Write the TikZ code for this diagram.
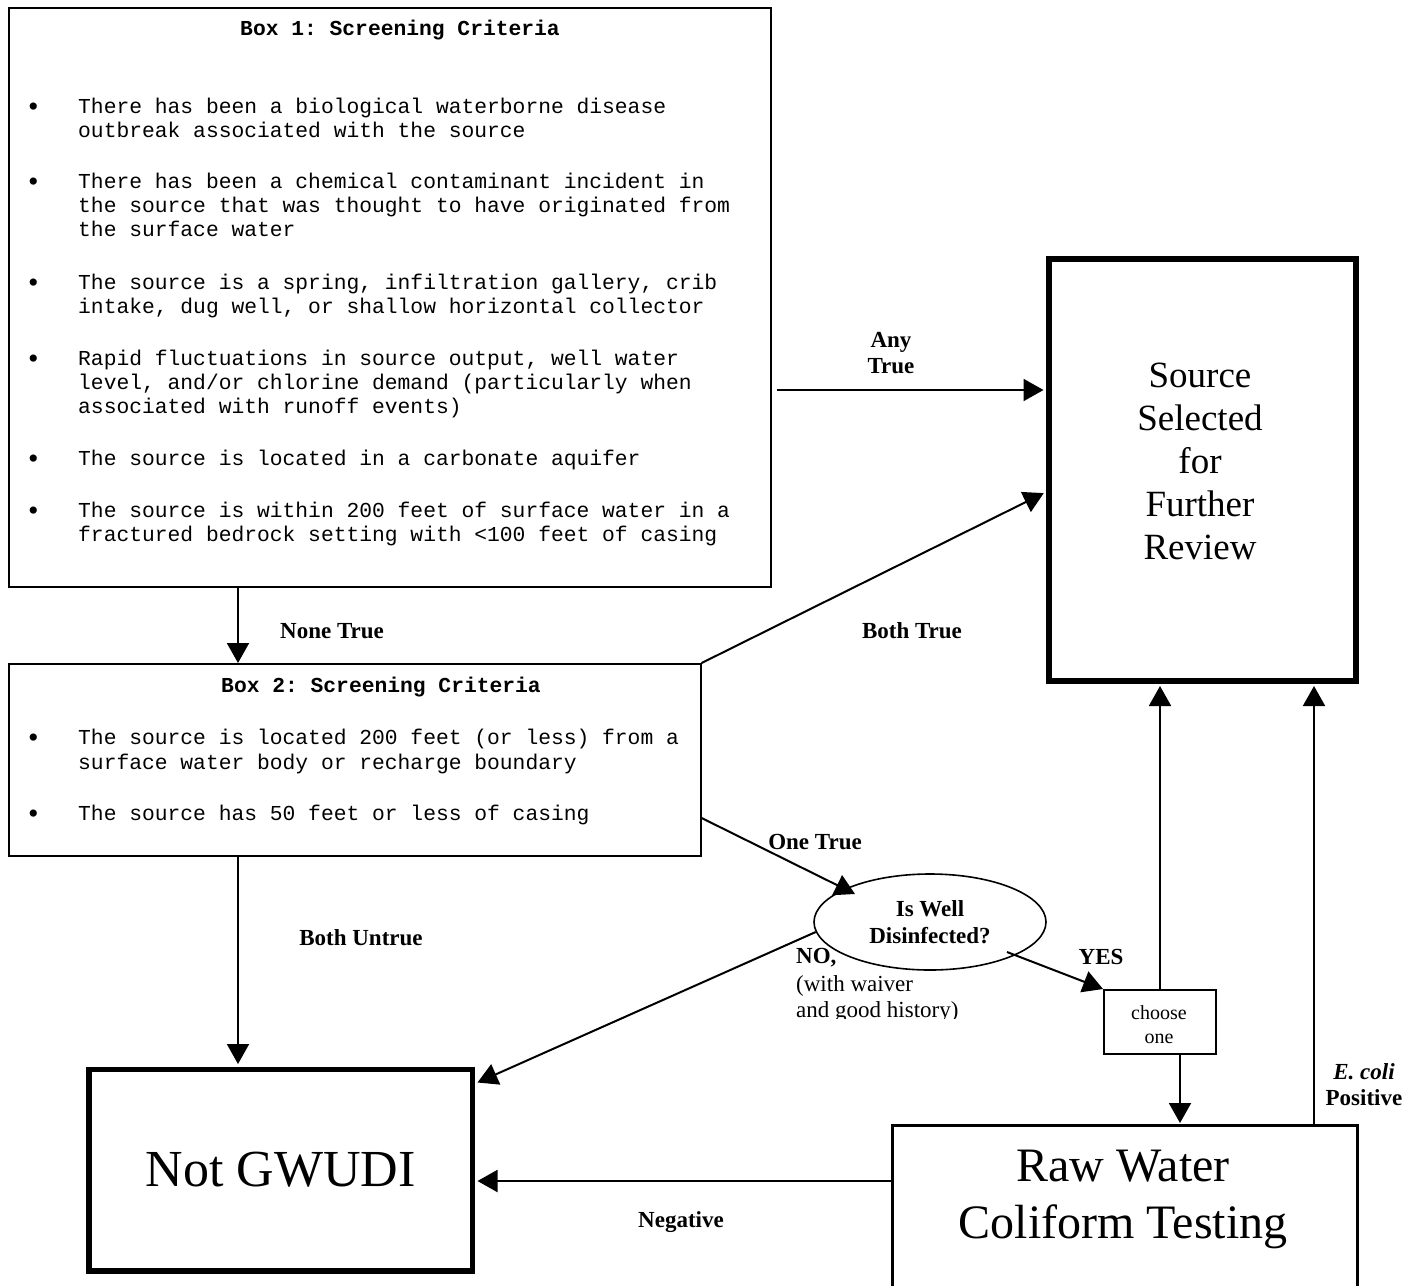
\documentclass[tikz,border=0pt]{standalone}
\usepackage{fontspec}
\setmainfont{Liberation Serif}
\newfontfamily\monof{Liberation Mono}
\usetikzlibrary{arrows.meta,shapes.geometric}
\frenchspacing
\tikzset{
  mono/.style={font=\monof\frenchspacing\fontsize{21.3}{24}\selectfont, inner sep=0pt, anchor=base west},
  monob/.style={font=\monof\frenchspacing\bfseries\fontsize{21.3}{24}\selectfont, inner sep=0pt, anchor=base},
  bul/.style={font=\fontsize{30}{30}\selectfont, inner sep=0pt, anchor=base west},
  lbl/.style={font=\frenchspacing\bfseries\fontsize{23}{26}\selectfont, inner sep=0pt, align=center},
  reg/.style={font=\fontsize{23}{27}\selectfont, inner sep=0pt, anchor=base west},
  box/.style={draw, inner sep=0pt, anchor=north west},
  arr/.style={-{Triangle[length=20pt,width=22pt]}, line width=2pt},
}
\begin{document}
\begin{tikzpicture}[x=1pt,y=-1pt]
\useasboundingbox (0,0) rectangle (1418,1285);
\fill[white] (0,0) rectangle (1418,1285);

% ---- boxes ----
\node[box, line width=1.6pt, minimum width=762pt, minimum height=579pt] (box1) at (8,7) {};
\node[box, line width=1.6pt, minimum width=692pt, minimum height=192pt] (box2) at (8,663) {};
\node[box, line width=5.5pt, minimum width=307pt, minimum height=422pt] (src) at (1046,256) {};
\node[align=center, inner sep=0pt, font=\fontsize{37}{43}\selectfont] (srct) at (1200,461)
      {Source\\Selected\\for\\Further\\Review};
\node[box, line width=5.5pt, minimum width=383.5pt, minimum height=201.5pt,
      font=\fontsize{52}{60}\selectfont] (notg) at (86,1066.5) {Not GWUDI};
\node[box, line width=2.5pt, minimum width=465pt, minimum height=180pt] (raw) at (891,1124) {};
\node[align=center, inner sep=0pt, font=\fontsize{48}{57}\selectfont] (rawt) at (1123,1199)
      {Raw Water\\Coliform Testing};
\node[draw, ellipse, line width=1.6pt, minimum width=232pt, minimum height=96pt, inner sep=0pt,
      align=center, font=\bfseries\fontsize{23}{27}\selectfont] (ell) at (930,922)
      {Is Well\\Disinfected?};
\node[box, line width=1.6pt, minimum width=112pt, minimum height=64pt] (choose) at (1103,989) {};
\node[align=center, inner sep=0pt, font=\fontsize{20}{24}\selectfont] (chooset) at (1159,1025) {choose\\one};

% ---- Box 1 text ----
\node[monob] (b1title) at (400,35) {Box 1: Screening Criteria};
\node[bul] (b1u1) at (28,116) {•};
\node[mono] (b1l1) at (78,113) {There has been a biological waterborne disease};
\node[mono] (b1l2) at (78,137) {outbreak associated with the source};
\node[bul] (b1u2) at (28,191) {•};
\node[mono] (b1l3) at (78,188) {There has been a chemical contaminant incident in};
\node[mono] (b1l4) at (78,212) {the source that was thought to have originated from};
\node[mono] (b1l5) at (78,236) {the surface water};
\node[bul] (b1u3) at (28,292) {•};
\node[mono] (b1l6) at (78,289) {The source is a spring, infiltration gallery, crib};
\node[mono] (b1l7) at (78,313) {intake, dug well, or shallow horizontal collector};
\node[bul] (b1u4) at (28,368) {•};
\node[mono] (b1l8) at (78,365) {Rapid fluctuations in source output, well water};
\node[mono] (b1l9) at (78,389) {level, and/or chlorine demand (particularly when};
\node[mono] (b1l10) at (78,413) {associated with runoff events)};
\node[bul] (b1u5) at (28,468) {•};
\node[mono] (b1l11) at (78,465) {The source is located in a carbonate aquifer};
\node[bul] (b1u6) at (28,520) {•};
\node[mono] (b1l12) at (78,517) {The source is within 200 feet of surface water in a};
\node[mono] (b1l13) at (78,541) {fractured bedrock setting with <100 feet of casing};

% ---- Box 2 text ----
\node[monob] (b2title) at (381,692) {Box 2: Screening Criteria};
\node[bul] (b2u1) at (28,747) {•};
\node[mono] (b2l1) at (78,744) {The source is located 200 feet (or less) from a};
\node[mono] (b2l2) at (78,769) {surface water body or recharge boundary};
\node[bul] (b2u2) at (28,823) {•};
\node[mono] (b2l3) at (78,820) {The source has 50 feet or less of casing};

% ---- connectors ----
\coordinate (anyS) at (777,390);
\draw[arr, shorten >=2.5pt] (anyS) -- (anyS -| src.west);
\coordinate (b1D) at ([xshift=230pt]box1.south west);
\draw[arr] (b1D) -- (b1D |- box2.north);
\draw[arr, shorten >=2.5pt] (box2.north east) -- ([yshift=-236pt]src.north west);
\coordinate (b2R) at ([yshift=-155pt]box2.north east);
\draw[arr] (b2R) -- ([xshift=-75pt,yshift=28pt]ell.center);
\coordinate (b2D) at ([xshift=230pt]box2.south west);
\draw[arr, shorten >=2.5pt] (b2D) -- (b2D |- notg.north);
\draw[arr] (ell.185) -- ([xshift=2.5pt,yshift=-16pt]notg.north east);
\coordinate (yesS) at ([xshift=77pt,yshift=-30pt]ell.center);
\draw[arr] (yesS) -- (choose.north west);
\coordinate (cU) at ([xshift=57pt]choose.north west);
\draw[arr, shorten >=2.5pt] (cU) -- (cU |- src.south);
\coordinate (cD) at ([xshift=77pt]choose.south west);
\draw[arr, shorten >=1pt] (cD) -- (cD |- raw.north);
\coordinate (rU) at ([xshift=423pt]raw.north west);
\draw[arr, shorten >=2.5pt] (rU) -- (rU |- src.south);
\coordinate (rL) at ([yshift=-57pt]raw.north west);
\draw[arr, shorten >=2.5pt] (rL) -- (rL -| notg.east);

% ---- labels ----
\node[lbl] (lAny) at (891,353) {Any\\True};
\node[lbl] (lNone) at (332,631) {None True};
\node[lbl] (lBoth) at (912,631) {Both True};
\node[lbl] (lOne) at (815,842) {One True};
\node[lbl] (lUntrue) at (361,938) {Both Untrue};
\node[lbl] (lYes) at (1101,957) {YES};
\node[lbl] (lEcoli) at (1364,1085) {\textit{E. coli}\\Positive};
\node[lbl] (lNeg) at (681,1222) {Negative};
\begin{scope}
  \clip (780,930) rectangle (1060,1018);
  \node[reg, font=\bfseries\fontsize{23}{27}\selectfont] (lNo) at (796,963) {NO,};
  \node[reg] (lNo2) at (796,991) {(with waiver};
  \node[reg] (lNo3) at (796,1017) {and good history)};
\end{scope}
\end{tikzpicture}
\end{document}
